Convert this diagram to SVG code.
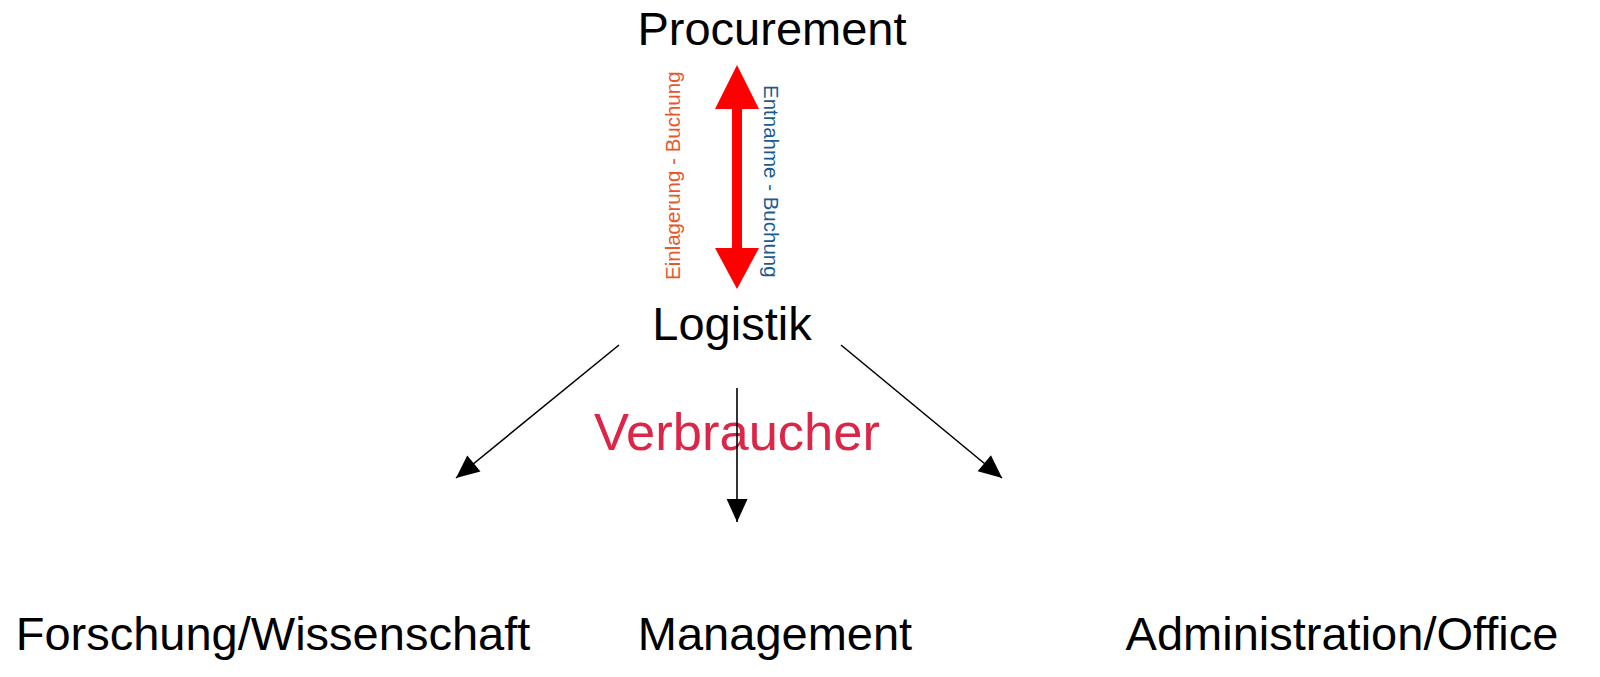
<svg xmlns="http://www.w3.org/2000/svg" width="1600" height="677" viewBox="0 0 1600 677">
<style>
text{font-family:"Liberation Sans",Arial,sans-serif;}
.node{font-size:47px;fill:#000;}
.side{font-size:20.5px;}
.conn{stroke:#000;stroke-width:1.6;fill:none;marker-end:url(#ah);}
</style>
<defs>
<marker id="ah" viewBox="0 0 10 10" refX="10" refY="5" markerWidth="11" markerHeight="11" markerUnits="userSpaceOnUse" orient="auto" overflow="visible">
<path d="M0,0 L10,5 L0,10 z" fill="#000" transform="scale(2.1 1.9) translate(-5.2 -2.4)"/>
</marker>
</defs>
<rect width="1600" height="677" fill="#fff"/>
<g id="procurement"><text class="node" x="772" y="45" text-anchor="middle">Procurement</text></g>
<g id="logistik"><text class="node" x="732" y="340" text-anchor="middle">Logistik</text></g>
<g id="verbraucher"><text x="737" y="450" text-anchor="middle" font-size="52.5" fill="#DC2648">Verbraucher</text></g>
<g id="forschung"><text class="node" x="273" y="650" text-anchor="middle">Forschung/Wissenschaft</text></g>
<g id="management"><text class="node" x="775" y="650" text-anchor="middle">Management</text></g>
<g id="administration"><text class="node" x="1342" y="650" text-anchor="middle">Administration/Office</text></g>
<g id="connectors">
<path d="M732,109 L732,248 L715,248 L737,289 L759,248 L742,248 L742,109 L759,109 L737,65 L715,109 Z" fill="#FF0000"/>
<text class="side" fill="#E8572A" transform="translate(680,280) rotate(-90)">Einlagerung - Buchung</text>
<text class="side" fill="#1A5C92" transform="translate(764,85) rotate(90)">Entnahme - Buchung</text>
<path class="conn" d="M619,345 L456,478"/>
<path class="conn" d="M737,388 L737,522"/>
<path class="conn" d="M841,345 L1002,478"/>
</g>
</svg>
